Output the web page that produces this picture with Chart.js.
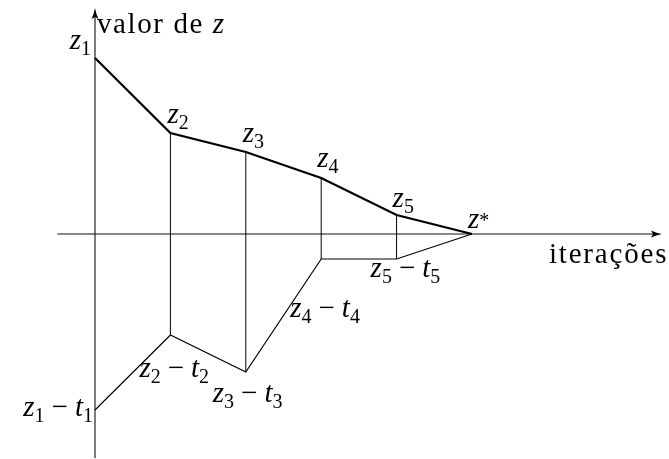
<!DOCTYPE html>
<html><head><meta charset="utf-8">
<script src="https://cdn.jsdelivr.net/npm/chart.js@4"></script>
<style>html,body{margin:0;padding:0;background:#fff}#wrap{width:669px;height:459px}</style>
</head><body><div id="wrap"><canvas id="c" width="669" height="459"></canvas></div>
<script>
// ---- data ----
const iterations = [0, 1, 2, 3, 4, 5];
const upperValues = [17.6, 10.1, 8.2, 5.6, 1.9, 0];
const lowerValues = [-17.6, -10.1, -13.8, -2.5, -2.5, 0];
const upperLabels = ['z_1', 'z_2', 'z_3', 'z_4', 'z_5', 'z^*'];
const lowerLabels = ['z_1−t_1', 'z_2−t_2', 'z_3−t_3', 'z_4−t_4', 'z_5−t_5', ''];
const yTitle = [{t: 'valor de ', it: false}, {t: 'z', it: true}];
const xTitle = [{t: 'iterações', it: false}];
const xAxisRange = [-0.5, 7.52];
const yAxisRange = [-22.4, 22.6];

// ---- layout (pixel offsets of labels from their points) ----
const upperOffsets = [[-4, -9, 'right'], [-3, -10, 'left'], [-3, -10, 'left'], [-4, -11, 'left'], [-4, -8, 'left'], [-4, -6, 'left']];
const lowerOffsets = [[-2, 6, 'right'], [-31, 42, 'left'], [-33, 30, 'left'], [-31, 58, 'left'], [-26, 18, 'left'], [0, 0, 'left']];

const FAM = '"Liberation Serif"';
const BIG = 29, SMALL = 20;

function parseMath(s) {
  const toks = [];
  for (let i = 0; i < s.length; i++) {
    const ch = s[i];
    if (ch === '_' || ch === '^') {
      toks.push({t: s[i + 1], font: SMALL + 'px ' + FAM, dy: ch === '_' ? 6 : -1});
      i++;
    } else if (ch === '−') {
      toks.push({t: '−', font: BIG + 'px ' + FAM, dy: 0, pre: 7, post: 7});
    } else if (/[a-z]/.test(ch)) {
      toks.push({t: ch, font: 'italic ' + BIG + 'px ' + FAM, dy: 0});
    } else {
      toks.push({t: ch, font: BIG + 'px ' + FAM, dy: 0});
    }
  }
  return toks;
}
function splitChars(parts, spacing) {
  const out = [];
  parts.forEach(p => {
    for (const ch of p.t) out.push({t: ch, font: (p.it ? 'italic ' : '') + BIG + 'px ' + FAM, dy: 0, post: spacing});
  });
  return out;
}
function drawTokens(ctx, toks, x, y, align) {
  ctx.save();
  ctx.textBaseline = 'alphabetic';
  ctx.textAlign = 'left';
  ctx.fillStyle = '#000';
  let w = 0;
  const widths = toks.map(tk => { ctx.font = tk.font; const m = ctx.measureText(tk.t).width; w += (tk.pre || 0) + m + (tk.post || 0); return m; });
  let cx = align === 'right' ? x - w : x;
  toks.forEach((tk, i) => {
    ctx.font = tk.font;
    cx += tk.pre || 0;
    ctx.fillText(tk.t, cx, y + (tk.dy || 0));
    cx += widths[i] + (tk.post || 0);
  });
  ctx.restore();
}

const pts = (ys) => iterations.map((x, i) => ({x: x, y: ys[i]}));
const datasets = [
  {data: pts(upperValues), borderColor: '#000', borderWidth: 2.3, pointRadius: 0, tension: 0},
  {data: pts(lowerValues), borderColor: '#000', borderWidth: 1.2, pointRadius: 0, tension: 0}
];
for (let i = 1; i <= 4; i++) {
  datasets.push({data: [{x: iterations[i], y: lowerValues[i]}, {x: iterations[i], y: upperValues[i]}],
    borderColor: '#000', borderWidth: 1, pointRadius: 0});
}

const diagramPlugin = {
  id: 'diagram',
  beforeDatasetsDraw(chart) {
    const ctx = chart.ctx, xs = chart.scales.x, ys = chart.scales.y;
    const y0 = ys.getPixelForValue(0), x0 = xs.getPixelForValue(0);
    const xl = xs.getPixelForValue(xAxisRange[0]), xr = xs.getPixelForValue(xAxisRange[1]);
    const yb = ys.getPixelForValue(yAxisRange[0]), yt = ys.getPixelForValue(yAxisRange[1]);
    ctx.save();
    ctx.strokeStyle = '#111';
    ctx.lineWidth = 1.1;
    ctx.beginPath();
    ctx.moveTo(xl, y0); ctx.lineTo(xr - 4, y0);
    ctx.moveTo(x0, yb); ctx.lineTo(x0, yt + 4);
    ctx.stroke();
    ctx.fillStyle = '#000';
    ctx.beginPath();
    ctx.moveTo(xr, y0);
    ctx.quadraticCurveTo(xr - 6, y0 - 1, xr - 11, y0 - 3.5);
    ctx.lineTo(xr - 9, y0);
    ctx.lineTo(xr - 11, y0 + 3.5);
    ctx.quadraticCurveTo(xr - 6, y0 + 1, xr, y0);
    ctx.fill();
    ctx.beginPath();
    ctx.moveTo(x0, yt);
    ctx.quadraticCurveTo(x0 - 1, yt + 6, x0 - 3.5, yt + 11);
    ctx.lineTo(x0, yt + 9);
    ctx.lineTo(x0 + 3.5, yt + 11);
    ctx.quadraticCurveTo(x0 + 1, yt + 6, x0, yt);
    ctx.fill();
    ctx.restore();
  },
  afterDatasetsDraw(chart) {
    const ctx = chart.ctx, xs = chart.scales.x, ys = chart.scales.y;
    iterations.forEach((it, i) => {
      const px = xs.getPixelForValue(it);
      let o = upperOffsets[i];
      drawTokens(ctx, parseMath(upperLabels[i]), px + o[0], ys.getPixelForValue(upperValues[i]) + o[1], o[2]);
      if (lowerLabels[i]) {
        o = lowerOffsets[i];
        drawTokens(ctx, parseMath(lowerLabels[i]), px + o[0], ys.getPixelForValue(lowerValues[i]) + o[1], o[2]);
      }
    });
    const x0 = xs.getPixelForValue(0), y0 = ys.getPixelForValue(0);
    const yt = ys.getPixelForValue(yAxisRange[1]), xr = xs.getPixelForValue(xAxisRange[1]);
    drawTokens(ctx, splitChars(yTitle, 1.6), x0 + 2, yt + 25, 'left');
    drawTokens(ctx, splitChars(xTitle, 1.8), xr - 113, y0 + 29, 'left');
  }
};

new Chart(document.getElementById('c'), {
  type: 'line',
  data: {datasets: datasets},
  options: {
    responsive: false,
    devicePixelRatio: 1,
    animation: false,
    layout: {padding: 0},
    plugins: {legend: {display: false}, tooltip: {enabled: false}},
    scales: {
      x: {type: 'linear', min: -1.26, max: 7.613, display: false},
      y: {type: 'linear', min: -22.5, max: 23.4, display: false}
    }
  },
  plugins: [diagramPlugin]
});
</script></body></html>
